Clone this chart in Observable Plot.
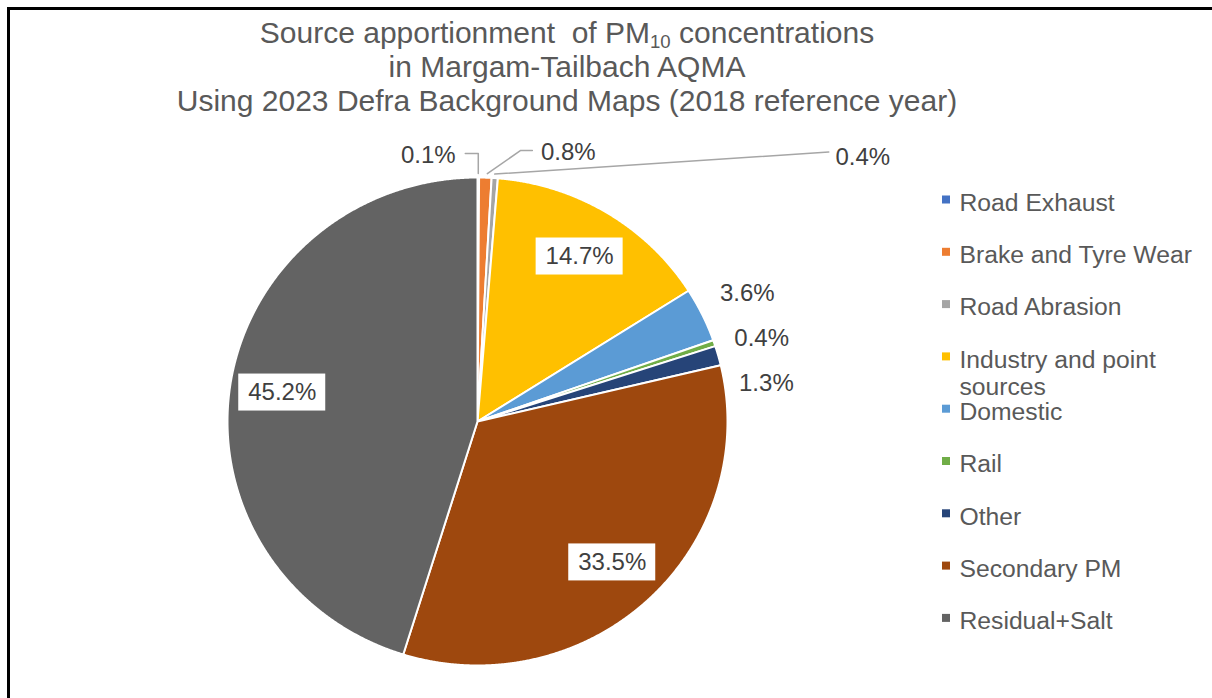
<!DOCTYPE html>
<html><head><meta charset="utf-8">
<script src="https://cdn.jsdelivr.net/npm/d3@7"></script>
<script src="https://cdn.jsdelivr.net/npm/@observablehq/plot@0.6"></script>
<style>
html,body{margin:0;padding:0;background:#fff;overflow:hidden;width:1212px;height:698px;}
#frame{position:absolute;left:7px;top:7px;width:1300px;height:800px;border-left:3px solid #000;border-top:3px solid #000;pointer-events:none;z-index:2}
#title{position:absolute;left:0;top:16px;width:1134px;text-align:center;font-family:"Liberation Sans",Arial,sans-serif;font-size:30px;line-height:34px;color:#595959;}
#title sub{font-size:0.62em;vertical-align:baseline;position:relative;top:0.28em;line-height:0}
#chart{position:absolute;left:0;top:118px;}
</style></head><body>
<div id="frame"></div>
<div id="title">Source apportionment &nbsp;of PM<sub>10</sub> concentrations<br>in Margam-Tailbach AQMA<br>Using 2023 Defra Background Maps (2018 reference year)</div>
<div id="chart"></div>
<script>
// ---- data ----
const categories = ["Road Exhaust","Brake and Tyre Wear","Road Abrasion","Industry and point sources","Domestic","Rail","Other","Secondary PM","Residual+Salt"];
const shares = [0.1, 0.8, 0.4, 14.7, 3.6, 0.4, 1.3, 33.5, 45.2];
const colors = ["#4472C4","#ED7D31","#A5A5A5","#FFC000","#5B9BD5","#70AD47","#264478","#9E480E","#636363"];

// ---- layout ----
const W = 1212, H = 580;
const cx = 477, cy = 303, rx = 250, ry = 244;
const font = "Liberation Sans, Arial, sans-serif";
const textColor = "#404040";

const rows = categories.map((c, i) => ({category: c, share: shares[i], color: colors[i], label: d3.format(".1f")(shares[i]) + "%"}));
const arcs = d3.pie().sort(null).value(d => d.share).startAngle(0).endAngle(2 * Math.PI)(rows);

const pt = (a, f) => ({x: cx + f * rx * Math.sin(a), y: cy - f * ry * Math.cos(a)});

function arcPoints(a0, a1) {
  const pts = [{x: cx, y: cy}];
  const n = Math.max(2, Math.ceil((a1 - a0) / 0.004));
  for (let k = 0; k <= n; k++) pts.push(pt(a0 + (a1 - a0) * k / n, 1));
  return pts;
}

// label placement
const insideLabels = [], outsideLabels = [], leaders = [];
// leader-line label offsets for the tiny slices at the top (relative to slice edge point)
const topLayout = {
  "Road Exhaust": (p) => { const l = {x: p.x - 50, y: p.y - 22}; return {l, line: [[p.x, p.y - 4], [p.x, l.y - 2], [l.x + 37, l.y - 2]]}; },
  "Brake and Tyre Wear": (p) => { const l = {x: p.x + 83, y: p.y - 25}; return {l, line: [[p.x + 2, p.y - 4], [l.x - 48, l.y - 2], [l.x - 36, l.y - 2]]}; },
  "Road Abrasion": (p) => { const l = {x: p.x + 368, y: p.y - 21}; return {l, line: [[p.x, p.y - 4], [l.x - 34, l.y - 5]]}; }
};
let lastRightY = -Infinity;
arcs.forEach(a => {
  const mid = (a.startAngle + a.endAngle) / 2;
  const d = a.data;
  if (d.share > 10) {
    const p = pt(mid, 0.79);
    insideLabels.push({...p, text: d.label});
  } else if (topLayout[d.category]) {
    const p = pt(mid, 1);
    const {l, line} = topLayout[d.category](p);
    outsideLabels.push({...l, text: d.label});
    line.forEach(([x, y]) => leaders.push({id: d.category, x, y}));
  } else {
    const p = pt(mid, 1.2);
    p.y = Math.max(p.y, lastRightY + 45);
    lastRightY = p.y;
    outsideLabels.push({...p, text: d.label});
  }
});

// legend rows
const legendX = 946, legendTop = 81.5, legendStep = 52.3;
const legend = rows.map((d, i) => ({category: d.category, color: d.color, y: legendTop + i * legendStep}));

const marks = [
  ...arcs.map(a => Plot.line(arcPoints(a.startAngle, a.endAngle), {
    x: "x", y: "y", fill: a.data.color, stroke: "white", strokeWidth: 2, strokeLinejoin: "round", curve: "linear-closed"
  })),
  Plot.line(leaders, {x: "x", y: "y", z: "id", stroke: "#A6A6A6", strokeWidth: 1.5}),
  Plot.rect(insideLabels, {x1: d => d.x - 43.5, x2: d => d.x + 43.5, y1: d => d.y - 18.5, y2: d => d.y + 18.5, fill: "white"}),
  Plot.text([...insideLabels, ...outsideLabels], {x: "x", y: "y", text: "text", fontSize: 24, fill: textColor, fontFamily: font}),
  Plot.rect(legend, {x1: legendX - 4, x2: legendX + 4, y1: d => d.y - 4, y2: d => d.y + 4, fill: "color"}),
  Plot.text(legend, {x: legendX + 13, y: d => d.y - 8.8, text: "category", textAnchor: "start", lineAnchor: "top",
    lineWidth: 10.5, lineHeight: 1.12, fontSize: 24.7, fill: "#595959", fontFamily: font})
];

const chart = Plot.plot({
  width: W, height: H, margin: 0,
  x: {type: "identity", axis: null},
  y: {type: "identity", axis: null},
  color: {type: "identity"},
  style: {fontFamily: font, background: "transparent", overflow: "visible"},
  marks
});
document.getElementById("chart").appendChild(chart);
</script>
</body></html>
